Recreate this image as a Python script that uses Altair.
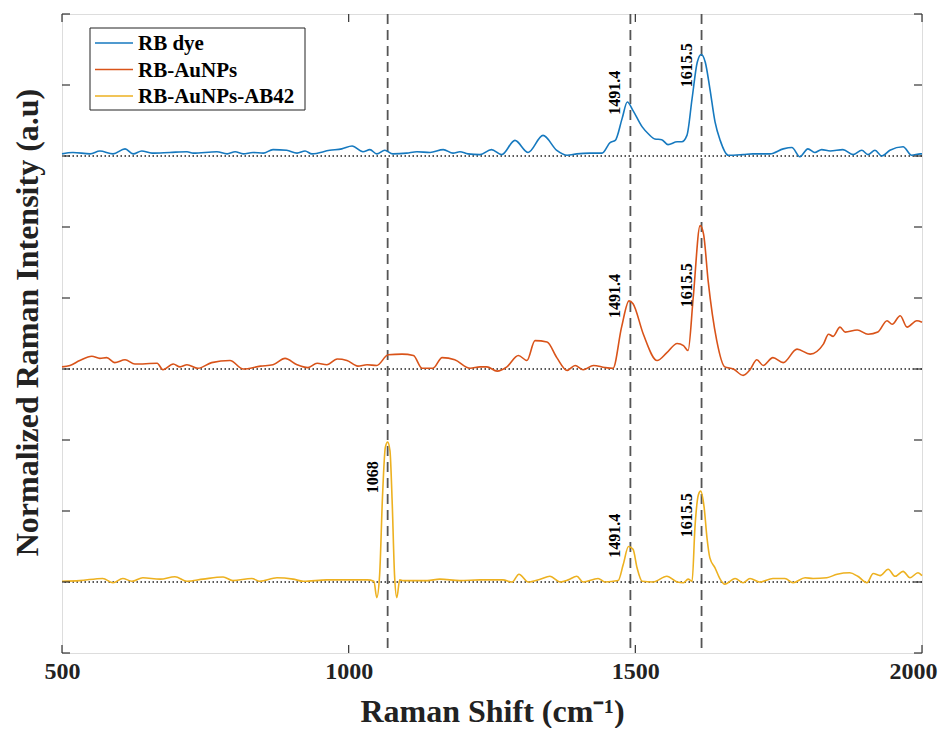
import altair as alt
import pandas as pd

# ---------------- data ----------------
series_names = ["RB dye", "RB-AuNPs", "RB-AuNPs-AB42"]
series_colors = ["#1679BF", "#D95319", "#EDB120"]
series_offsets = [6, 3, 0]

rb_x = [500, 519, 549, 566, 589, 610, 624, 639, 657, 688, 718, 729, 770, 788, 802, 816, 833, 851, 868, 892,
        910, 924, 936, 967, 988, 1006, 1025, 1037, 1049, 1063, 1077, 1101, 1119, 1142, 1165, 1182, 1194, 1208,
        1229, 1249, 1267, 1290, 1313, 1339, 1363, 1381, 1398, 1421, 1442, 1456, 1465, 1477, 1486, 1496, 1512,
        1523, 1534, 1546, 1557, 1573, 1581, 1590, 1599, 1608, 1615, 1622, 1630, 1639, 1648, 1662, 1688, 1705,
        1735, 1758, 1773, 1787, 1801, 1813, 1825, 1840, 1862, 1880, 1895, 1906, 1918, 1930, 1944, 1967, 1982,
        1997, 2000]
rb_y = [0.03, 0.05, 0.03, 0.07, 0.03, 0.10, 0.03, 0.07, 0.04, 0.05, 0.06, 0.04, 0.06, 0.03, 0.06, 0.03, 0.05,
        0.04, 0.09, 0.08, 0.04, 0.07, 0.03, 0.08, 0.10, 0.14, 0.06, 0.09, 0.03, 0.08, 0.03, 0.04, 0.06, 0.05,
        0.09, 0.04, 0.06, 0.03,
        0.02, 0.09, 0.02, 0.22, 0.05, 0.29, 0.08, 0.01, 0.03, 0.04, 0.04, 0.19, 0.22, 0.53, 0.76, 0.64, 0.41,
        0.31, 0.24, 0.23, 0.16, 0.20, 0.20, 0.29, 0.81, 1.32, 1.43, 1.32, 0.95, 0.48, 0.22, 0.01, 0.02, 0.03,
        0.03, 0.10, 0.12, -0.01, 0.10, 0.05, 0.09, 0.07, 0.09, 0.02, 0.08, 0.02, 0.08, 0.00, 0.08, 0.13, 0.01,
        0.03, 0.03]

au_x = [500, 514, 531, 552, 566, 578, 592, 610, 627, 666, 676, 694, 706, 718, 737, 761, 793, 816, 846, 868,
        889, 910, 929, 945, 962, 980, 997, 1016, 1032, 1049, 1069, 1093, 1113, 1128, 1147, 1163, 1185, 1212,
        1229, 1241, 1259, 1276, 1296, 1311, 1325, 1346, 1363, 1381, 1395, 1409, 1427, 1447, 1461, 1476, 1489,
        1496, 1514, 1538, 1555, 1573, 1584, 1592, 1601, 1613, 1619, 1627, 1642, 1656, 1671, 1688, 1700, 1712,
        1723, 1740, 1758, 1782, 1805, 1828, 1837, 1845, 1857, 1866, 1887, 1906, 1923, 1939, 1948, 1962, 1974,
        1991, 2000]
au_y = [0.03, 0.05, 0.12, 0.18, 0.15, 0.16, 0.09, 0.13, 0.07, 0.08, -0.01, 0.07, 0.03, 0.06, 0.01, 0.09, 0.12,
        0.00, 0.04, 0.06, 0.15, 0.06, 0.02, 0.08, 0.06, 0.14, 0.12, 0.04, 0.06, 0.05, 0.20, 0.21, 0.19, 0.01,
        0.01, 0.16, 0.13, 0.01,
        0.03, 0.03, -0.03, 0.03, 0.19, 0.12, 0.40, 0.38, 0.16, -0.02, 0.05, -0.01, 0.05, 0.02, 0.01, 0.59, 0.96,
        0.92, 0.49, 0.12, 0.23, 0.36, 0.33, 0.26, 1.01, 2.02, 1.90, 1.24, 0.40, 0.03, 0.00, -0.09, -0.01, 0.13,
        0.05, 0.16, 0.09, 0.28, 0.21, 0.35, 0.49, 0.46, 0.59, 0.52, 0.55, 0.49, 0.52, 0.68, 0.63, 0.75, 0.59,
        0.68, 0.66]

ab_x = [500, 531, 571, 589, 606, 622, 641, 671, 697, 718, 746, 781, 798, 831, 845, 875, 903, 921, 962, 1002,
        1032, 1044, 1049, 1054, 1059, 1064, 1068, 1072, 1076, 1080, 1084, 1089, 1095, 1137, 1159, 1194, 1229,
        1269, 1285, 1297, 1313, 1334, 1351, 1369, 1383, 1398, 1409, 1435, 1447, 1470, 1479, 1488, 1496, 1503,
        1512, 1531, 1555, 1573, 1584, 1592, 1599, 1604, 1610, 1614, 1620, 1625, 1630, 1639, 1648, 1656, 1674,
        1688, 1700, 1717, 1740, 1761, 1775, 1796, 1810, 1834, 1852, 1874, 1888, 1904, 1915, 1927, 1941, 1953,
        1967, 1979, 1993, 2000]
ab_y = [0.01, 0.02, 0.05, -0.01, 0.05, 0.01, 0.06, 0.04, 0.075, 0.01, 0.04, 0.07, 0.02, 0.05, 0.01, 0.06, 0.04,
        0.01, 0.03, 0.03, 0.03, 0.01, -0.22, 0.10, 1.20, 1.90, 1.97, 1.85, 1.10, 0.10, -0.22, 0.03, 0.02, 0.02,
        0.04, 0.02, 0.03, 0.03, 0.00, 0.11, 0.00, 0.04, 0.08, 0.00, 0.03, 0.08, 0.00, 0.05, 0.00, 0.02, 0.25,
        0.50, 0.46, 0.20, 0.01, 0.00, 0.08, 0.00, -0.01, 0.04, 0.01, 0.77, 1.23, 1.28, 1.05, 0.62, 0.34, 0.20,
        0.04, -0.03, 0.05, -0.01, 0.05, 0.00, 0.05, 0.05, -0.01, 0.06, 0.05, 0.06, 0.11, 0.13, 0.08, -0.01, 0.12,
        0.09, 0.18, 0.08, 0.15, 0.06, 0.13, 0.09]

peak_positions = [1068, 1491.4, 1615.5]

ann_labels = ["1491.4", "1615.5", "1491.4", "1615.5", "1068", "1491.4", "1615.5"]
ann_x = [1491.4, 1615.5, 1491.4, 1615.5, 1068, 1491.4, 1615.5]
ann_series = [0, 0, 1, 1, 2, 2, 2]
ann_rel = [0.58, 0.97, 0.72, 0.87, 1.25, 0.34, 0.63]

x_ticks = [500, 1000, 1500, 2000]
y_ticks = [-1, 0, 1, 2, 3, 4, 5, 6, 7, 8]

# ---------------- tables ----------------
frames = []
for name, xs, ys, off in zip(series_names, [rb_x, au_x, ab_x], [rb_y, au_y, ab_y], series_offsets):
    f = pd.DataFrame({"shift": xs, "rel": ys})
    f["series"] = name
    f["intensity"] = f["rel"] + off
    frames.append(f)
spectra = pd.concat(frames, ignore_index=True)

baselines = pd.DataFrame({"intensity": series_offsets})
peaks = pd.DataFrame({"shift": peak_positions})
ann = pd.DataFrame({
    "shift": ann_x,
    "label": ann_labels,
    "intensity": [r + series_offsets[s] for r, s in zip(ann_rel, ann_series)],
})
xt = pd.DataFrame({"shift": x_ticks})
yt = pd.DataFrame({"intensity": y_ticks})
one = pd.DataFrame({"k": [0]})

W, H = 860, 639
FONT = "Liberation Serif"
TICK = 8

xscale = alt.Scale(domain=[500, 2000], nice=False, zero=False)
yscale = alt.Scale(domain=[-1, 8], nice=False, zero=False)

xaxis = alt.Axis(values=x_ticks, format="d", ticks=False, domain=False, grid=False,
                 labelFont=FONT, labelFontSize=24, labelFontWeight="bold", labelColor="#222",
                 labelPadding=6, labelFlush=False, labelBound=False,
                 labelOffset={"condition": {"test": "datum.value >= 2000", "value": -9}, "value": 0},
                 title="Raman Shift (cm\u207B\u00B9)", titleFont=FONT, titleFontSize=32,
                 titleFontWeight="bold", titleColor="#222", titlePadding=13)
yaxis = alt.Axis(labels=False, ticks=False, domain=False, grid=False,
                 title="Normalized Raman Intensity (a.u)", titleFont=FONT, titleFontSize=32,
                 titleFontWeight="bold", titleColor="#222", titlePadding=18, titleY=308)

X = alt.X("shift:Q", scale=xscale, axis=xaxis)
Y = alt.Y("intensity:Q", scale=yscale, axis=yaxis)

peak_rules = alt.Chart(peaks).mark_rule(color="#555555", strokeWidth=1.8, strokeDash=[10, 6]).encode(x=X)

base_rules = alt.Chart(baselines).mark_rule(color="#222222", strokeWidth=1.4, strokeDash=[1.5, 2.5]).encode(y=Y)

lines = alt.Chart(spectra).mark_line(strokeWidth=1.6, interpolate="monotone").encode(
    x=X, y=Y,
    color=alt.Color("series:N", scale=alt.Scale(domain=series_names, range=series_colors), legend=None),
    order=alt.Order("shift:Q"),
)

labels = alt.Chart(ann).mark_text(angle=270, align="left", baseline="bottom", dy=-7,
                                  font=FONT, fontSize=16, fontWeight="bold", color="black").encode(
    x=X, y=Y, text="label:N")

tick_color = "#333333"
xt_bottom = alt.Chart(xt).mark_rule(color=tick_color, strokeWidth=1.2).encode(
    x=X, y=alt.value(H), y2=alt.value(H - TICK))
xt_top = alt.Chart(xt).mark_rule(color=tick_color, strokeWidth=1.2).encode(
    x=X, y=alt.value(0), y2=alt.value(TICK))
yt_left = alt.Chart(yt).mark_rule(color=tick_color, strokeWidth=1.2).encode(
    y=Y, x=alt.value(0), x2=alt.value(TICK))
yt_right = alt.Chart(yt).mark_rule(color=tick_color, strokeWidth=1.2).encode(
    y=Y, x=alt.value(W), x2=alt.value(W - TICK))

# ---------------- legend (drawn by hand, MATLAB style) ----------------
LEG_X0, LEG_X1, LEG_Y0, LEG_Y1 = 28, 243, 14, 96
ROW0, ROW_STEP = 29, 26.5
legend_layers = [
    alt.Chart(one).mark_rect(fill="white", stroke="#222222", strokeWidth=1).encode(
        x=alt.value(LEG_X0), x2=alt.value(LEG_X1), y=alt.value(LEG_Y0), y2=alt.value(LEG_Y1))
]
for i, (name, col) in enumerate(zip(series_names, series_colors)):
    ry = ROW0 + ROW_STEP * i
    legend_layers.append(alt.Chart(one).mark_rule(color=col, strokeWidth=1.5).encode(
        x=alt.value(33), x2=alt.value(71), y=alt.value(ry)))
    legend_layers.append(alt.Chart(one).mark_text(align="left", baseline="middle", font=FONT, fontSize=21,
                                                  fontWeight="bold", color="black").encode(
        x=alt.value(76), y=alt.value(ry + 1), text=alt.value(name)))

chart = alt.layer(peak_rules, base_rules, lines, labels, xt_bottom, xt_top, yt_left, yt_right,
                  *legend_layers).properties(
    width=W, height=H,
    autosize=alt.AutoSizeParams(type="none"),
    padding={"left": 54, "top": 6, "right": 18, "bottom": 75},
).configure_view(stroke="#333333", strokeWidth=1.3).configure(background="white")

chart.save("out.html", embed_options={"renderer": "svg", "actions": False})
